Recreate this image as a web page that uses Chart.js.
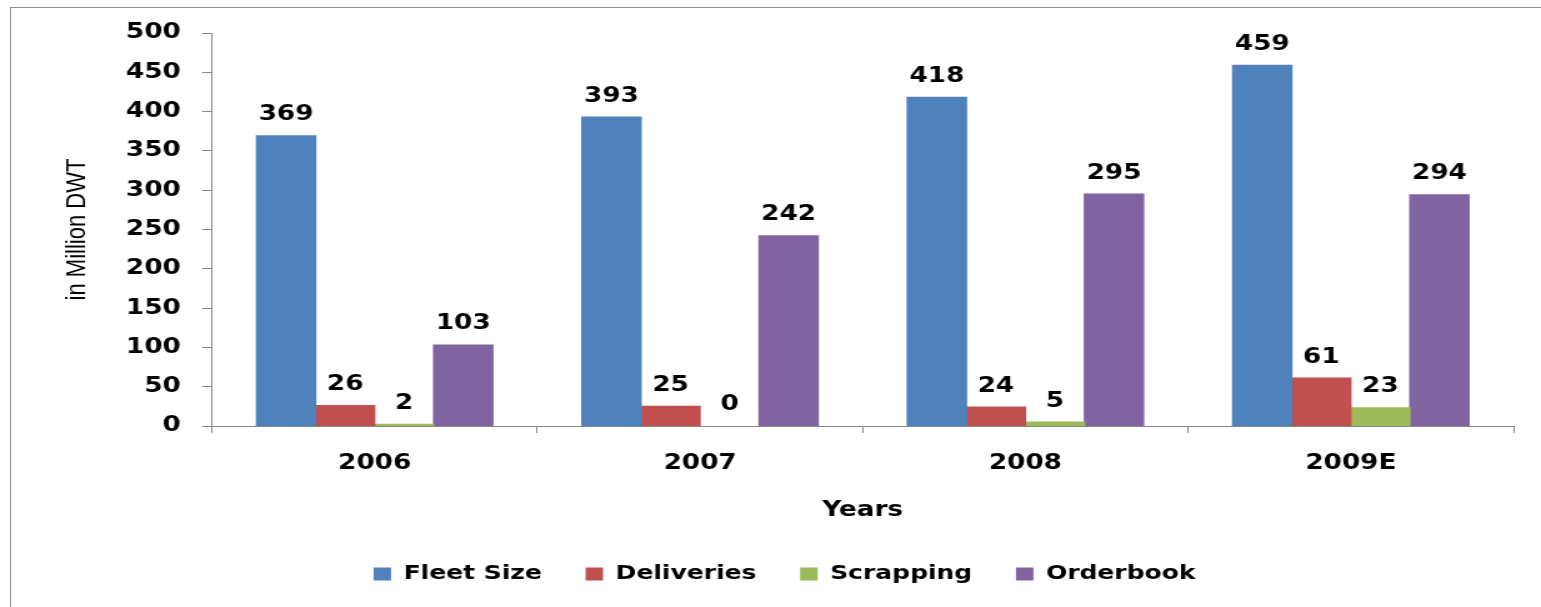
<!DOCTYPE html>
<html>
<head>
<meta charset="utf-8">
<script src="https://cdn.jsdelivr.net/npm/chart.js@4.4.1/dist/chart.umd.min.js"></script>
<style>
    html, body { margin: 0; padding: 0; background: #fff; overflow: hidden; }
    .frame { position: absolute; left: 10px; top: 7px; width: 1600px; height: 700px; border: 1px solid #8c8c8c; }
    /* the chart is laid out narrower, then widened */
    .stretch { position: absolute; left: 0; top: 0; width: 1233px; height: 607px; transform: scaleX(1.2498); transform-origin: 0 0; }
</style>
</head>
<body>
<div class="frame"></div>
<div class="stretch"><canvas id="fleetChart"></canvas></div>
<script>
// Données (en millions de DWT)
const years = ['2006', '2007', '2008', '2009E'];
const fleetSize = [369, 393, 418, 459];
const deliveries = [26, 25, 24, 61];
const scrapping = [2, 0, 5, 23];
const orderbook = [103, 242, 295, 294];
const yMax = 500;
const yStep = 50;

const boldFont = '"DejaVu Sans", Verdana, sans-serif';

// Valeurs au-dessus des barres
const valueLabels = {
    id: 'valueLabels',
    afterDatasetsDraw(chart) {
        const ctx = chart.ctx;
        ctx.save();
        ctx.font = 'bold 21px ' + boldFont;
        ctx.fillStyle = '#000';
        ctx.textAlign = 'center';
        ctx.textBaseline = 'middle';
        chart.data.datasets.forEach((ds, i) => {
            chart.getDatasetMeta(i).data.forEach((bar, j) => {
                ctx.fillText(String(ds.data[j]), bar.x, bar.y - 21);
            });
        });
        ctx.restore();
    }
};

Chart.defaults.color = '#000';

new Chart(document.getElementById('fleetChart'), {
    type: 'bar',
    data: {
        labels: years,
        datasets: [
            { label: 'Fleet Size', data: fleetSize, backgroundColor: '#4f81bd' },
            { label: 'Deliveries', data: deliveries, backgroundColor: '#c0504d' },
            { label: 'Scrapping', data: scrapping, backgroundColor: '#9bbb59' },
            { label: 'Orderbook', data: orderbook, backgroundColor: '#8064a2' }
        ]
    },
    options: {
        responsive: true,
        maintainAspectRatio: false,
        animation: false,
        events: [],
        datasets: {
            bar: {
                barPercentage: 1,
                categoryPercentage: 0.726,
                borderWidth: 0,
                // évite les liserés blancs entre barres voisines
                inflateAmount: (c) => (c.raw === 0 ? 0 : 0.6)
            }
        },
        layout: { padding: { left: 44.5, right: 22, top: 33, bottom: 13 } },
        plugins: {
            tooltip: { enabled: false },
            legend: {
                position: 'bottom',
                labels: {
                    boxWidth: 14,
                    boxHeight: 13,
                    padding: 35,
                    font: { family: boldFont, size: 20, weight: 'bold' }
                }
            }
        },
        scales: {
            x: {
                grid: { drawOnChartArea: false, tickLength: 7, color: '#868686' },
                border: { color: '#868686' },
                ticks: { padding: 18, font: { family: boldFont, size: 21, weight: 'bold' } },
                title: {
                    display: true,
                    text: 'Years',
                    padding: { top: 0, bottom: 6 },
                    font: { family: boldFont, size: 21, weight: 'bold' }
                },
                afterFit(scale) { scale.height = 103; }
            },
            y: {
                min: 0,
                max: yMax,
                grid: { drawOnChartArea: false, tickLength: 8, color: '#868686' },
                border: { color: '#868686' },
                ticks: { stepSize: yStep, padding: 17, font: { family: boldFont, size: 21, weight: 'bold' } },
                title: {
                    display: true,
                    text: 'in Million DWT',
                    padding: 4,
                    font: { family: '"Liberation Sans", Arial, sans-serif', size: 22 }
                },
                afterFit(scale) { scale.width = 125.1; }
            }
        }
    },
    plugins: [valueLabels]
});
</script>
</body>
</html>
